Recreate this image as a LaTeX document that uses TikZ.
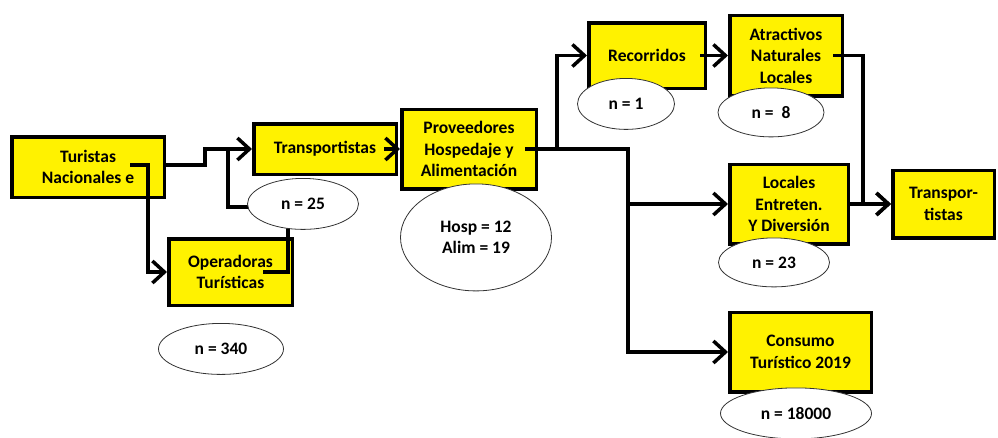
\documentclass[tikz,border=0pt]{standalone}
\usepackage{fontspec}
\setmainfont{Carlito}
\usepackage{tikz}
\usetikzlibrary{shapes.geometric,arrows.meta,positioning}

\begin{document}
\begin{tikzpicture}[
        x=1pt, y=1pt,
        box/.style={rectangle, draw, line width=3.5pt, fill=yellow, inner sep=0pt, align=center, font=\fontsize{17.5}{21.5}\selectfont\bfseries},
        count/.style={ellipse, draw=black!80, line width=0.8pt, fill=white, inner sep=0pt, align=center, font=\fontsize{17.5}{21.5}\selectfont\bfseries},
        arrow/.style={line width=3.5pt, -{Straight Barb[length=12pt,width=22pt]}},
        link/.style={line width=3.5pt}
    ]
    \useasboundingbox (0,0) rectangle (998,-437);
    % Boxes
    \node[box, minimum width=152.5pt, minimum height=60.5pt] (turistas) at (88,-167) {Turistas\\Nacionales e};
    \node[box, minimum width=142.5pt, minimum height=50.5pt, right=86pt of turistas, yshift=18pt] (transp) {Transportistas};
    \node[box, minimum width=123.5pt, minimum height=66.5pt, below right=38pt and 1pt of turistas.south east] (operadoras) {Operadoras\\Turísticas};
    \node[box, minimum width=134.5pt, minimum height=79.5pt, right=2pt of transp] (proveedores) {Proveedores\\Hospedaje y\\Alimentación};
    \node[box, minimum width=116.5pt, minimum height=65.5pt, right=49pt of proveedores, yshift=93.5pt] (recorridos) {Recorridos};
    \node[box, minimum width=112.5pt, minimum height=80.5pt, right=21pt of recorridos] (atractivos) {Atractivos\\Naturales\\Locales};
    \node[box, minimum width=118.5pt, minimum height=79.5pt, below right=65pt and 0pt of atractivos.south west] (locales) {Locales\\Entreten.\\Y Diversión};
    \node[box, minimum width=141.5pt, minimum height=79.5pt, below right=65pt and 0pt of locales.south west] (consumo) {Consumo\\Turístico 2019};
    \node[box, minimum width=101.5pt, minimum height=67.5pt, right=41pt of locales] (transp2) {Transpor-\\tistas};
    % Arrows
    \draw[arrow] ([yshift=2pt]turistas.east) -- ++(39,0) |- (transp.west);
    \draw[arrow] ([xshift=-36pt,yshift=2pt]turistas.east) -- ++(18,0) |- (operadoras.west);
    \draw[link] ([xshift=-31pt]operadoras.east) -- ++(25,0) -- ++(0,65) -| ([xshift=-24pt]transp.west);
    \draw[arrow] ([xshift=-14pt]transp.east) -- (proveedores.west);
    \draw[arrow] ([xshift=-13pt]proveedores.east) -- ++(32,0) |- (recorridos.west);
    \draw[arrow] ([xshift=-13pt]proveedores.east) -- ++(103,0) |- (locales.west);
    \draw[arrow] ([xshift=-13pt]proveedores.east) -- ++(103,0) |- (consumo.west);
    \draw[arrow] ([xshift=-7pt]recorridos.east) -- (atractivos.west);
    \draw[arrow] ([xshift=-11pt]atractivos.east) -- ++(30,0) |- (transp2.west);
    \draw[arrow] (locales) -- (transp2);
    % Counts
    \node[count, minimum width=111pt, minimum height=51pt, below=2pt of transp, xshift=-22pt] (n25) {n = 25};
    \node[count, minimum width=125pt, minimum height=51pt, below=16pt of operadoras, xshift=-9.5pt] (n340) {n = 340};
    \node[count, minimum width=151pt, minimum height=107pt, below=-7pt of proveedores, xshift=7pt] (nhosp) {Hosp = 12\\Alim = 19};
    \node[count, minimum width=97pt, minimum height=51pt, below=-12pt of recorridos, xshift=-21pt] (n1) {n = 1};
    \node[count, minimum width=106pt, minimum height=49pt, below=-10pt of atractivos, xshift=-15pt] (n8) {n =\ \ 8};
    \node[count, minimum width=111pt, minimum height=49pt, below=-8pt of locales, xshift=-15pt] (n23) {n = 23};
    \node[count, minimum width=151pt, minimum height=51pt, below=-6pt of consumo, xshift=-4.5pt] (n18000) {n = 18000};
\end{tikzpicture}
\end{document}
